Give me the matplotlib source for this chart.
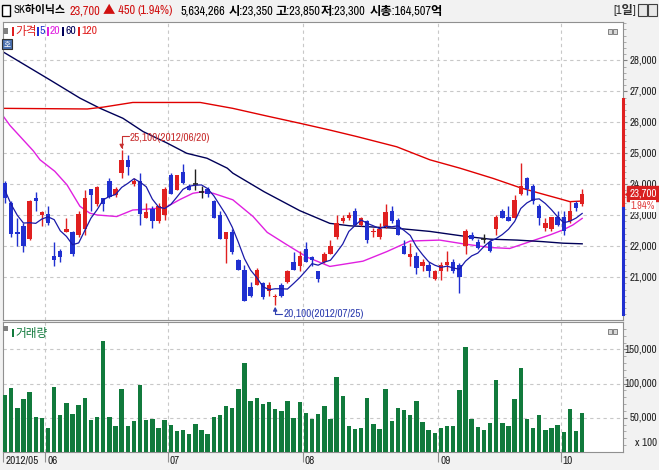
import numpy as np
import pandas as pd
import matplotlib
matplotlib.use('Agg')
import matplotlib.pyplot as plt
from matplotlib import font_manager
from matplotlib.patches import Rectangle
from matplotlib.textpath import TextToPath
import matplotlib.transforms as mtransforms

# daily candles, 2012/05/22 .. 2012/10/08
opens = [24050, 23400, 22450, 22650, 22250, 23550, 23000, 23050, 21700, 21850,
         22450, 22450, 22350, 22550, 23850, 23350, 23550, 24100, 23650, 24350,
         24800, 24000, 24100, 22900, 23200, 22800, 23000, 24300, 23800, 24400,
         23950, 24000, 23750, 23850, 23450, 23000, 22250, 22450, 21550, 21250,
         20700, 20750, 20800, 20550, 20350, 20750, 20850, 21500, 21350, 21900,
         21650, 21200, 21500, 21750, 22300, 22800, 22900, 23150, 22700, 22800,
         22450, 22300, 22650, 23150, 22850, 22000, 21650, 21700, 21350, 21400,
         20950, 21200, 21400, 21500, 21400, 22000, 22350, 22150, 22250, 22150,
         22550, 23150, 22950, 22900, 23700, 24200, 23950, 23300, 22600, 22550,
         22950, 22950, 22800, 23400, 23350]
highs = [24100, 23450, 22900, 22750, 23500, 23750, 23150, 23300, 22150, 21900,
         22900, 22500, 23150, 23800, 23850, 23950, 23550, 24200, 23900, 25100,
         24950, 24200, 24350, 23400, 23300, 23400, 23900, 24350, 24300, 24650,
         24000, 24500, 23950, 23900, 23500, 23150, 22450, 22550, 21600, 21400,
         20850, 21300, 20850, 20850, 20450, 20800, 21250, 21800, 21850, 22150,
         21700, 21200, 21800, 22200, 23000, 23000, 23100, 23250, 22950, 22850,
         22600, 22750, 23350, 23300, 22900, 22200, 22100, 21800, 21600, 21500,
         21250, 21500, 21850, 21600, 21450, 22550, 22450, 22250, 22400, 22200,
         23000, 23200, 23300, 23650, 24700, 24250, 24000, 23350, 22900, 22950,
         23150, 23150, 23450, 23450, 23850]
lows = [23400, 22300, 22000, 21800, 22200, 23150, 22650, 22700, 21350, 21500,
        22450, 21700, 22300, 22350, 23150, 23300, 23150, 23550, 23600, 24200,
        24300, 23950, 22700, 22900, 22600, 22750, 22850, 23700, 23800, 24000,
        23800, 23800, 23550, 23600, 22900, 22250, 21450, 21750, 21250, 20250,
        20350, 20750, 20300, 20400, 20100, 20350, 20800, 21250, 21200, 21500,
        21350, 20850, 21450, 21750, 22250, 22750, 22850, 22700, 22650, 22100,
        22300, 22250, 22600, 22750, 22350, 21750, 21350, 21100, 21200, 21000,
        20900, 20900, 21200, 21150, 20500, 21750, 22200, 21900, 22100, 21800,
        22350, 22900, 22800, 22900, 23650, 23650, 23350, 22700, 22500, 22500,
        22650, 22350, 22750, 23150, 23300]
closes = [23550, 22400, 22400, 22000, 23450, 23450, 23100, 22750, 21550, 21650,
          22550, 21750, 23050, 23550, 23650, 23900, 23350, 23600, 23850, 24800,
          24550, 24100, 23050, 23100, 22800, 23300, 23850, 23700, 24300, 24050,
          23800, 24000, 23750, 23700, 22900, 22250, 22450, 21800, 21250, 20250,
          20400, 21250, 20350, 20750, 20400, 20400, 21200, 21250, 21700, 21500,
          21550, 20950, 21750, 22000, 22750, 22900, 23000, 22700, 22900, 22200,
          22500, 22550, 23100, 22800, 22350, 21750, 21750, 21300, 21500, 21200,
          21200, 21400, 21500, 21200, 21000, 22500, 22250, 21950, 22250, 21850,
          22950, 22900, 22800, 23500, 23950, 23850, 23450, 22900, 22750, 22950,
          22700, 22500, 23150, 23250, 23700]
# volume, unit x100 shares
volumes = [83000, 93300, 64000, 77200, 87900, 51300, 49800, 35200, 94800, 53700,
           71800, 55200, 68400, 79100, 46900, 51300, 162700, 51300, 37600, 92300,
           37600, 44900, 98200, 46400, 47900, 34700, 46400, 39100, 30300, 31800,
           25900, 40500, 31800, 25900, 51300, 53700, 66900, 64000, 91800, 129900,
           74700, 78700, 69900, 72800, 62500, 59600, 74300, 49300, 72800, 56700,
           47900, 55200, 66900, 47900, 108900, 81600, 38600, 33200, 35700, 78700,
           40500, 33200, 91800, 44900, 64000, 61100, 53700, 74300, 43500, 31800,
           27400, 34700, 37600, 37600, 90400, 152900, 47900, 36200, 31800, 42000,
           105000, 42000, 37600, 77200, 122600, 47900, 34700, 53700, 31800, 34700,
           39100, 28800, 62500, 30300, 56700]

month_labels = ['2012/05', '06', '07', '08', '09', '10']
month_starts = [0, 7, 27, 49, 71, 91]

# first MA5 values (need closes from before the window)
ma5_head = [23800, 23350, 23000, 22750]

# longer moving averages (candle index, price)
ma20_x = [-0.3, 0.8, 4.6, 5.7, 8.1, 10.1, 12.2, 13.8, 15.0, 18.2, 20.8, 22.5, 25.2,
          26.4, 28.5, 30.6, 32.2, 33.9, 37.1, 40.4, 42.7, 45.9, 49.2, 52.9, 58.3,
          62.2, 66.0, 70.8, 74.6, 79.0, 82.2, 85.5, 88.8, 90.9, 92.5, 94.0]
ma20_y = [26200, 25900, 25080, 24790, 24420, 23980, 23290, 23070, 23010, 22960,
          23170, 23190, 23230, 23280, 23510, 23710, 23760, 23710, 23500, 22960,
          22450, 22050, 21650, 21350, 21520, 21830, 22170, 22200, 22080, 21960,
          21930, 22150, 22370, 22530, 22690, 22900]
ma60_x = [-0.3, 2.4, 7.3, 12.2, 15.5, 19.2, 22.5, 26.4, 29.6, 32.9, 36.2, 37.1,
          42.2, 48.0, 52.9, 56.2, 58.3, 63.8, 69.2, 74.6, 79.0, 83.4, 87.6, 90.9, 94.0]
ma60_y = [28270, 27950, 27370, 26780, 26450, 26130, 25700, 25330, 25000, 24840,
          24520, 24360, 23760, 23150, 22740, 22660, 22640, 22580, 22480, 22330,
          22230, 22200, 22150, 22100, 22080]
ma120_x = [-0.3, 13.4, 16.0, 20.8, 31.8, 37.1, 42.7, 48.0, 52.9, 57.3, 63.8,
           69.2, 74.1, 79.5, 83.9, 87.1, 90.4, 92.0, 94.0]
ma120_y = [26450, 26430, 26490, 26640, 26640, 26450, 26200, 25970, 25750, 25540,
           25210, 24790, 24520, 24190, 23890, 23710, 23530, 23440, 23460]

# price range marker on the right axis
range_top, range_mid, range_bottom = 26750, 23250, 19800

price_ticks = [21000, 22000, 23000, 24000, 25000, 26000, 27000, 28000]
vol_ticks = [50000, 100000, 150000]

RED = '#e02020'
BLUE = '#2030d0'
MAGENTA = '#e020e0'
NAVY = '#000058'
GREEN = '#117a3c'
GRID = '#c8c8c8'

# narrow latin font if there is one, plus a Korean font for hangul
names = sorted({f.name for f in font_manager.fontManager.ttflist})
narrow = [n for n in names if 'Narrow' in n or 'Condensed' in n]
if 'Liberation Sans Narrow' in names:
    num_family = 'Liberation Sans Narrow'
elif narrow:
    num_family = narrow[0]
elif 'Liberation Sans' in names:
    num_family = 'Liberation Sans'
else:
    num_family = 'DejaVu Sans'
mixed = [num_family, 'Noto Sans CJK KR', 'DejaVu Sans']
t2p = TextToPath()


def fit_size(text, width_px, weight='normal', limit=9.5):
    # font size (pt) that makes text about width_px wide at dpi 100
    fp = font_manager.FontProperties(family=num_family, size=10, weight=weight)
    w, _, _ = t2p.get_text_width_height_descent(text, fp, ismath=False)
    return min(limit, 10 * width_px / (w * 100 / 72))


axis_fs = fit_size('28,000', 27.5)
head_fs = fit_size('23,700', 31, weight='bold')
date_fs = fit_size('2012/05', 33)
note_fs = fit_size('25,100(2012/06/20)', 80)
leg_fs = fit_size('120', 16)

W, H = 659, 470
fig = plt.figure(figsize=(W / 100, H / 100), dpi=100)
fig.patch.set_facecolor('#f2f2f2')


def fx(x):
    return x / W


def fy(y):
    return 1 - y / H


n = len(closes)
idx = np.arange(n)
xlim = (-0.33, 100.65)

# ---------- price panel ----------
ax = fig.add_axes([fx(3), fy(320), 620 / W, 298 / H])
ax.set_facecolor('white')
ax.set_xlim(*xlim)
ax.set_ylim(19622, 29236)

for i in range(n):
    o, h, l, c = opens[i], highs[i], lows[i], closes[i]
    if c > o:
        col = RED
    elif c < o:
        col = BLUE
    else:
        col = '#202020'
    ax.vlines(i, l, h, color=col, lw=1, zorder=3)
    if c == o:
        ax.hlines(c, i - 0.4, i + 0.4, color=col, lw=1.2, zorder=3)
    else:
        ax.bar(i, abs(c - o), bottom=min(o, c), width=0.72, color=col, zorder=3, lw=0)

ma5 = pd.Series(closes).rolling(5).mean().to_numpy()
ma5[:4] = ma5_head
ax.plot(idx, ma5, color='#1a1aa8', lw=0.9, zorder=4)
ax.plot(ma20_x, ma20_y, color=MAGENTA, lw=1.0, zorder=2)
ax.plot(ma60_x, ma60_y, color=NAVY, lw=1.0, zorder=2)
ax.plot(ma120_x, ma120_y, color='#e00000', lw=1.0, zorder=2)

ax.set_yticks(price_ticks)
ax.set_yticks(np.arange(19800, 29236, 200), minor=True)
ax.yaxis.tick_right()
ax.set_yticklabels([])
ax.tick_params(axis='y', which='major', length=3, color='#808080')
ax.tick_params(axis='y', which='minor', length=2, color='#a0a0a0')
ax.set_xticks([])
grid_x = [s - 0.5 for s in month_starts[1:]]
for gx in grid_x:
    ax.axvline(gx, color=GRID, lw=0.8, ls=(0, (3, 3)), zorder=1)
for gy in price_ticks:
    ax.axhline(gy, color=GRID, lw=0.8, ls=(0, (3, 3)), zorder=1)
for side in ['top', 'left', 'bottom', 'right']:
    ax.spines[side].set_color('#909090')

# tick labels, right aligned at the figure edge
lab_tr = mtransforms.blended_transform_factory(fig.transFigure, ax.transData)
for v in price_ticks:
    fig.text(fx(657), v, f'{v:,}', transform=lab_tr, ha='right', va='center',
             fontsize=axis_fs, family=num_family, color='#202020')

# red/blue range bar on the right axis
tr = mtransforms.blended_transform_factory(ax.transAxes, ax.transData)
ax.plot([1, 1], [range_mid, range_top], color=RED, lw=2.2, transform=tr, clip_on=False, zorder=6)
ax.plot([1, 1], [range_bottom, range_mid], color=BLUE, lw=2.2, transform=tr, clip_on=False, zorder=6)

# current price box
last = closes[-1]
chg_pct = (closes[-1] - closes[-2]) / closes[-2] * 100
fig.text(fx(657), last, f'{last:,}', transform=lab_tr, ha='right', va='center',
         fontsize=axis_fs, family=num_family, color='white', zorder=8,
         bbox=dict(boxstyle='square,pad=0.2', fc='#d82020', ec='#d82020'))
ax.plot([1.008], [last], marker='<', ms=4, color='#d82020', transform=tr, clip_on=False, zorder=8)
fig.text(fx(655), last - 400, f'{chg_pct:.2f}%', transform=lab_tr, ha='right', va='center',
         fontsize=axis_fs * 0.95, family=num_family, color='#e04040', zorder=8,
         bbox=dict(boxstyle='square,pad=0.1', fc='white', ec='none'))

# high / low marks
hi_i = int(np.argmax(highs))
lo_i = int(np.argmin(lows))
ax.annotate('', xy=(hi_i, highs[hi_i]), xytext=(5, 10), textcoords='offset points',
            arrowprops=dict(arrowstyle='-|>', color='#c83030', lw=0.8, mutation_scale=6,
                            connectionstyle='angle,angleA=0,angleB=90,rad=0', shrinkA=0, shrinkB=1))
ax.annotate(f'{highs[hi_i]:,}(2012/06/20)', xy=(hi_i, highs[hi_i]), xytext=(6, 9),
            textcoords='offset points', ha='left', va='center', fontsize=note_fs,
            family=num_family, color='#c83030')
ax.annotate('', xy=(lo_i, lows[lo_i]), xytext=(5, -6.5), textcoords='offset points',
            arrowprops=dict(arrowstyle='-|>', color='#3040b0', lw=0.8, mutation_scale=6,
                            connectionstyle='angle,angleA=0,angleB=90,rad=0', shrinkA=0, shrinkB=1))
ax.annotate(f'{lows[lo_i]:,}(2012/07/25)', xy=(lo_i, lows[lo_i]), xytext=(6, -6.5),
            textcoords='offset points', ha='left', va='center', fontsize=note_fs,
            family=num_family, color='#3040b0')

# ---------- volume panel ----------
axv = fig.add_axes([fx(3), fy(452), 620 / W, 130 / H])
axv.set_facecolor('white')
axv.set_xlim(*xlim)
axv.set_ylim(0, 190000)
axv.bar(idx, volumes, width=0.72, color=GREEN, lw=0, zorder=3)
axv.yaxis.tick_right()
axv.set_yticks(vol_ticks)
axv.set_yticklabels([])
axv.set_yticks(np.arange(10000, 190000, 10000), minor=True)
axv.tick_params(axis='y', which='major', length=3, color='#808080')
axv.tick_params(axis='y', which='minor', length=2, color='#a0a0a0')
for gx in grid_x:
    axv.axvline(gx, color=GRID, lw=0.8, ls=(0, (3, 3)), zorder=1)
for gy in vol_ticks:
    axv.axhline(gy, color=GRID, lw=0.8, ls=(0, (3, 3)), zorder=1)
for side in ['top', 'left', 'bottom', 'right']:
    axv.spines[side].set_color('#909090')
vol_tr = mtransforms.blended_transform_factory(fig.transFigure, axv.transData)
for v in vol_ticks:
    fig.text(fx(657), v, f'{v:,}', transform=vol_tr, ha='right', va='center',
             fontsize=axis_fs, family=num_family, color='#202020')
fig.text(fx(657), fy(443), 'x 100', ha='right', va='center',
         fontsize=axis_fs, family=num_family, color='#202020')

axv.set_xticks([-0.3] + grid_x)
axv.set_xticklabels([])
axv.tick_params(axis='x', length=7, color='#909090')
for lab, s in zip(month_labels, month_starts):
    axv.text(max(s - 0.5, -0.3) + 0.35, -0.03, lab, transform=axv.get_xaxis_transform(),
             ha='left', va='top', fontsize=date_fs, family=num_family, color='#202020')

# ---------- legends ----------
fig.patches.append(Rectangle((fx(3), fy(34)), 5 / W, 6 / H, transform=fig.transFigure,
                             fc='#808080', ec='none'))
leg = [('가격', RED, 12), ('5', BLUE, 37), ('20', MAGENTA, 47),
       ('60', NAVY, 62), ('120', RED, 78)]
for txt, col, x in leg:
    fig.patches.append(Rectangle((fx(x), fy(35.5)), 1.8 / W, 8 / H, transform=fig.transFigure,
                                 fc=col, ec='none'))
    fig.text(fx(x + 3), fy(31.5), txt, color=col, fontsize=leg_fs, family=mixed,
             va='center', ha='left')
fig.patches.append(Rectangle((fx(2), fy(49)), 10 / W, 10 / H, transform=fig.transFigure,
                             fc='#4a70b0', ec='#303030', lw=0.8))
fig.text(fx(7), fy(44), '호', color='white', fontsize=5.5, family=mixed, ha='center', va='center')

fig.patches.append(Rectangle((fx(3), fy(331)), 5 / W, 5 / H, transform=fig.transFigure,
                             fc='#808080', ec='none'))
fig.patches.append(Rectangle((fx(12), fy(337)), 1.8 / W, 8 / H, transform=fig.transFigure,
                             fc=GREEN, ec='none'))
fig.text(fx(15), fy(333), '거래량', color=GREEN, fontsize=leg_fs, family=mixed,
         va='center', ha='left')

# small window buttons on the panels
for bx, by in [(608, 34), (608, 334)]:
    for k in range(2):
        fig.patches.append(Rectangle((fx(bx + k * 5), fy(by)), 4 / W, 5 / H,
                                     transform=fig.transFigure, fc='#d8d8d8',
                                     ec='#707070', lw=0.6))

# ---------- header ----------
fig.patches.append(Rectangle((fx(2), fy(16)), 8 / W, 11 / H, transform=fig.transFigure,
                             fc='white', ec='black', lw=1))
fig.text(fx(14), fy(10.5), 'SK하이닉스', color='black', fontsize=head_fs * 0.88, family=mixed,
         weight='bold', va='center', ha='left')
head = [('23,700', '#d01010', 69), ('▲ 450', '#d01010', 103),
        ('(1.94%)', '#d01010', 137), ('5,634,266', 'black', 181), ('시:23,350', 'black', 229),
        ('고:23,850', 'black', 275), ('저:23,300', 'black', 321), ('시총:164,507억', 'black', 370),
        ('[1일]', '#303030', 613)]
for txt, col, x in head:
    fig.text(fx(x), fy(10.5), txt, color=col, fontsize=head_fs, family=mixed, weight='bold',
             va='center', ha='left')
for x in (638, 648):
    fig.patches.append(Rectangle((fx(x), fy(16)), 9 / W, 12 / H, transform=fig.transFigure,
                                 fc='#e8e8e8', ec='#404040', lw=0.8))

fig.savefig('out.png', dpi=100, facecolor=fig.get_facecolor())
